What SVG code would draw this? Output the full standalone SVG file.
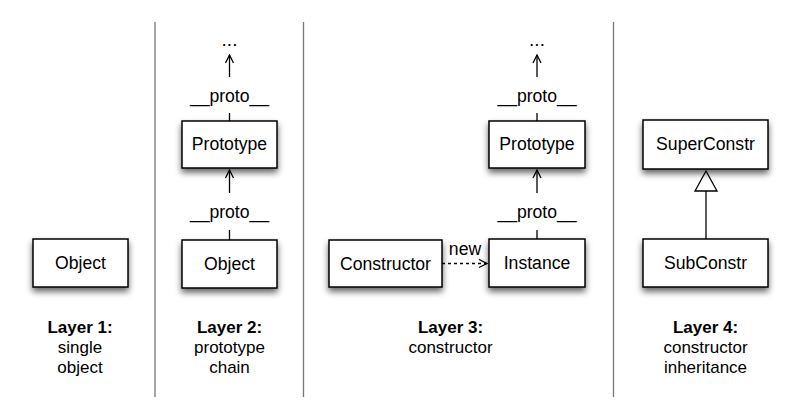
<svg xmlns="http://www.w3.org/2000/svg" width="800" height="419" viewBox="0 0 800 419">
<style>
text{font-family:"Liberation Sans",Arial,sans-serif;font-size:17px;fill:#000;text-anchor:middle}
.b{font-weight:bold}
.t{font-size:17.6px}
.box{fill:#fff;stroke:#000;stroke-width:1.5}
.ln{stroke:#000;stroke-width:1.3;fill:none}
.div{stroke:#777;stroke-width:1.3}
</style>
<defs>
<filter id="sh" x="-20%" y="-20%" width="140%" height="160%">
<feDropShadow dx="0" dy="4" stdDeviation="3" flood-color="#000" flood-opacity="0.6"/>
</filter>
<marker id="open" viewBox="0 0 10 10" refX="9" refY="5" markerWidth="10" markerHeight="10" markerUnits="userSpaceOnUse" orient="auto">
<path d="M1,1 L9,5 L1,9" fill="none" stroke="#000" stroke-width="1.3"/>
</marker>
</defs>
<rect width="800" height="419" fill="#fff"/>
<g id="dividers">
<line class="div" x1="155" y1="22" x2="155" y2="397"/>
<line class="div" x1="303.5" y1="22" x2="303.5" y2="397"/>
<line class="div" x1="613.5" y1="22" x2="613.5" y2="397"/>
</g>
<g id="connectors">
<line class="ln" x1="229.5" y1="77" x2="229.5" y2="55" marker-end="url(#open)"/>
<line class="ln" x1="229.5" y1="113" x2="229.5" y2="121"/>
<line class="ln" x1="229.5" y1="193" x2="229.5" y2="170" marker-end="url(#open)"/>
<line class="ln" x1="229.5" y1="230" x2="229.5" y2="240"/>
<line class="ln" x1="537" y1="77" x2="537" y2="55" marker-end="url(#open)"/>
<line class="ln" x1="537" y1="113" x2="537" y2="121"/>
<line class="ln" x1="537" y1="193" x2="537" y2="170" marker-end="url(#open)"/>
<line class="ln" x1="537" y1="230" x2="537" y2="239"/>
<line class="ln" x1="442" y1="263.5" x2="487" y2="263.5" stroke-dasharray="3,3" marker-end="url(#open)"/>
<line class="ln" x1="706" y1="191" x2="706" y2="239"/>
<path d="M706,171 L717,191 L695,191 Z" fill="#fff" stroke="#000" stroke-width="1.3"/>
</g>
<g id="labels">
<text x="229.5" y="46" style="font-size:19px">...</text>
<text class="t" x="229.5" y="102">__proto__</text>
<text class="t" x="229.5" y="218">__proto__</text>
<text x="537" y="46" style="font-size:19px">...</text>
<text class="t" x="537" y="102">__proto__</text>
<text class="t" x="537" y="218">__proto__</text>
<text class="t" x="465" y="255">new</text>
</g>
<g id="l1-object">
<rect class="box" x="33" y="239" width="95" height="48" filter="url(#sh)"/>
<text class="t" x="80.5" y="269">Object</text>
</g>
<g id="l2-prototype">
<rect class="box" x="182" y="121" width="95" height="47" filter="url(#sh)"/>
<text class="t" x="229.5" y="150">Prototype</text>
</g>
<g id="l2-object">
<rect class="box" x="182" y="240" width="95" height="48" filter="url(#sh)"/>
<text class="t" x="229.5" y="270">Object</text>
</g>
<g id="l3-prototype">
<rect class="box" x="489" y="121" width="96" height="47" filter="url(#sh)"/>
<text class="t" x="537" y="150">Prototype</text>
</g>
<g id="l3-constructor">
<rect class="box" x="329" y="240" width="113" height="47" filter="url(#sh)"/>
<text class="t" x="385.5" y="270">Constructor</text>
</g>
<g id="l3-instance">
<rect class="box" x="489" y="239" width="96" height="48" filter="url(#sh)"/>
<text class="t" x="537" y="269">Instance</text>
</g>
<g id="l4-superconstr">
<rect class="box" x="643" y="120" width="125" height="49" filter="url(#sh)"/>
<text class="t" x="705.5" y="150">SuperConstr</text>
</g>
<g id="l4-subconstr">
<rect class="box" x="643" y="239" width="125" height="48" filter="url(#sh)"/>
<text class="t" x="705.5" y="269">SubConstr</text>
</g>
<g id="captions">
<text class="b" x="80" y="333">Layer 1:</text>
<text x="80" y="353">single</text>
<text x="80" y="373">object</text>
<text class="b" x="229.5" y="333">Layer 2:</text>
<text x="229.5" y="353">prototype</text>
<text x="229.5" y="373">chain</text>
<text class="b" x="450.5" y="333">Layer 3:</text>
<text x="450.5" y="353">constructor</text>
<text class="b" x="705.5" y="333">Layer 4:</text>
<text x="705.5" y="353">constructor</text>
<text x="705.5" y="373">inheritance</text>
</g>
</svg>
